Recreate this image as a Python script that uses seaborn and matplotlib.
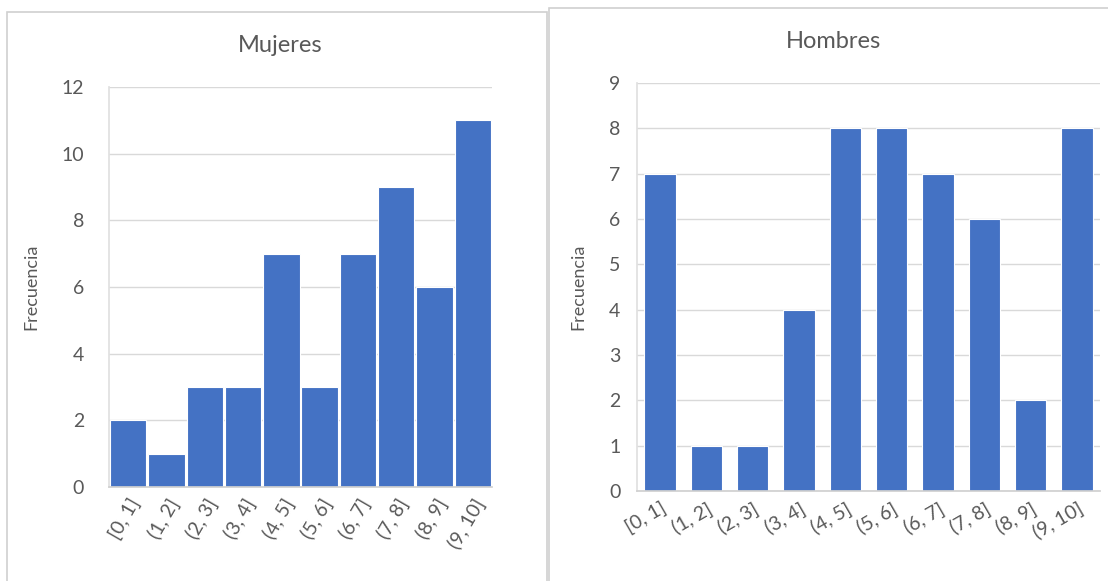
import matplotlib
matplotlib.use("Agg")
import matplotlib.pyplot as plt
import seaborn as sns
import pandas as pd
from matplotlib.patches import Rectangle

# datos
intervalos = ['[0, 1]', '(1, 2]', '(2, 3]', '(3, 4]', '(4, 5]',
              '(5, 6]', '(6, 7]', '(7, 8]', '(8, 9]', '(9, 10]']
mujeres = [2, 1, 3, 3, 7, 3, 7, 9, 6, 11]
hombres = [7, 1, 1, 4, 8, 8, 7, 6, 2, 8]

sns.set_theme(style="white")
plt.rcParams['font.family'] = ['Lato', 'DejaVu Sans']

azul = '#4472C4'
gris = '#595959'

fig = plt.figure(figsize=(11.08, 5.81), dpi=100)

# marcos de cada grafico (como en Excel)
fig.patches.append(Rectangle((7 / 1108, -0.01), 540 / 1108, 1 - 12 / 581 + 0.01,
                             transform=fig.transFigure, fill=False,
                             edgecolor='#d0d0d0', linewidth=1.2))
fig.patches.append(Rectangle((549 / 1108, -0.01), 0.6, 1 - 8 / 581 + 0.01,
                             transform=fig.transFigure, fill=False,
                             edgecolor='#d0d0d0', linewidth=1.2))

ax1 = fig.add_axes([109 / 1108, 1 - 487 / 581, 383 / 1108, 400 / 581])
ax2 = fig.add_axes([637 / 1108, 1 - 491 / 581, 463 / 1108, 408 / 581])

df_m = pd.DataFrame({'intervalo': intervalos, 'frecuencia': mujeres})
df_h = pd.DataFrame({'intervalo': intervalos, 'frecuencia': hombres})


def dibujar(ax, df, ymax, paso, ancho, rot, pad_y):
    sns.barplot(data=df, x='intervalo', y='frecuencia', color=azul,
                saturation=1, width=ancho, edgecolor='white', linewidth=0.8, ax=ax)
    ax.set_xlim(-0.5, len(df) - 0.5)
    ax.set_ylim(0, ymax)
    ax.set_yticks(range(0, ymax + 1, paso))
    ax.yaxis.grid(True, color='#d9d9d9', linewidth=1)
    ax.set_axisbelow(True)
    for s in ['top', 'right']:
        ax.spines[s].set_visible(False)
    ax.spines['bottom'].set_color('#d0d0d0')
    ax.spines['left'].set_color('#e0e0e0')
    ax.tick_params(axis='both', length=0, colors=gris, labelsize=14)
    ax.tick_params(axis='y', pad=pad_y)
    ax.tick_params(axis='x', pad=6)
    plt.setp(ax.get_xticklabels(), rotation=rot, ha='right', rotation_mode='anchor')
    ax.set_xlabel('')
    ax.set_ylabel('Frecuencia', color=gris, fontsize=13, labelpad=16)


dibujar(ax1, df_m, 12, 2, 0.95, 60, 18)
dibujar(ax2, df_h, 9, 1, 0.68, 30, 12)

# titulos centrados sobre cada marco
fig.text(280 / 1108, 1 - 45 / 581, 'Mujeres', color=gris, fontsize=17,
         ha='center', va='center')
fig.text(833 / 1108, 1 - 41 / 581, 'Hombres', color=gris, fontsize=17,
         ha='center', va='center')

fig.savefig('out.png', dpi=100)
